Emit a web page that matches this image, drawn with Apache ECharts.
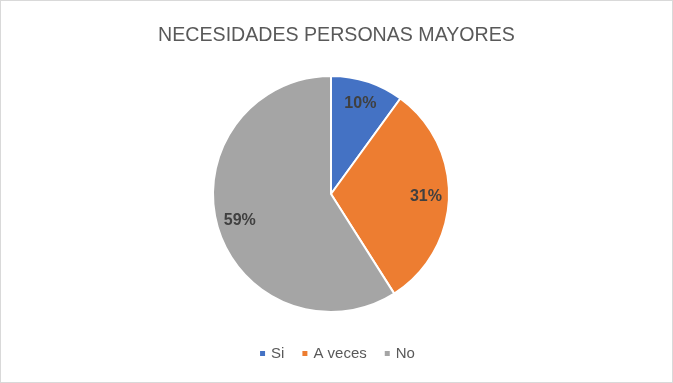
<!DOCTYPE html>
<html><head><meta charset="utf-8">
<script src="https://cdn.jsdelivr.net/npm/echarts@6/dist/echarts.min.js"></script>
<style>
html,body{margin:0;padding:0;background:#fff;}
#c{width:673px;height:383px;box-sizing:border-box;border:1px solid #d9d9d9;}
</style></head>
<body><div id="c"></div>
<script>
const title = 'NECESIDADES PERSONAS MAYORES';
const categories = ['Si', 'A veces', 'No'];
const values = [10, 31, 59];
const colors = ['#4472C4', '#ED7D31', '#A5A5A5'];

const data = categories.map((n, i) => ({name: n, value: values[i], itemStyle: {color: colors[i]}}));
const chart = echarts.init(document.getElementById('c'), null, {renderer: 'canvas'});
const font = 'Liberation Sans, Arial, sans-serif';
chart.setOption({
  animation: false,
  title: {text: title, left: 'center', top: 20,
    textStyle: {fontFamily: font, fontSize: 19.6, fontWeight: 'normal', color: '#595959'}},
  legend: {bottom: 16, left: 'center', itemWidth: 7, itemHeight: 7, itemGap: 16, icon: 'rect',
    textStyle: {fontFamily: font, fontSize: 15, color: '#595959'}, data: categories},
  series: [
    {type: 'pie', radius: [0, 118], center: [330, 193], startAngle: 90, clockwise: true,
     label: {show: false}, labelLine: {show: false},
     itemStyle: {borderColor: '#fff', borderWidth: 2}, data: data, silent: true},
    {type: 'pie', radius: [66, 118], center: [330, 193], startAngle: 90, clockwise: true,
     itemStyle: {color: 'transparent'}, silent: true, legendHoverLink: false,
     label: {show: true, position: 'inside', formatter: '{c}%', fontFamily: font, fontSize: 16,
       fontWeight: 'bold', color: '#404040'},
     labelLine: {show: false},
     data: categories.map((n, i) => ({name: n + ' ', value: values[i]}))}
  ]
});
</script></body></html>
